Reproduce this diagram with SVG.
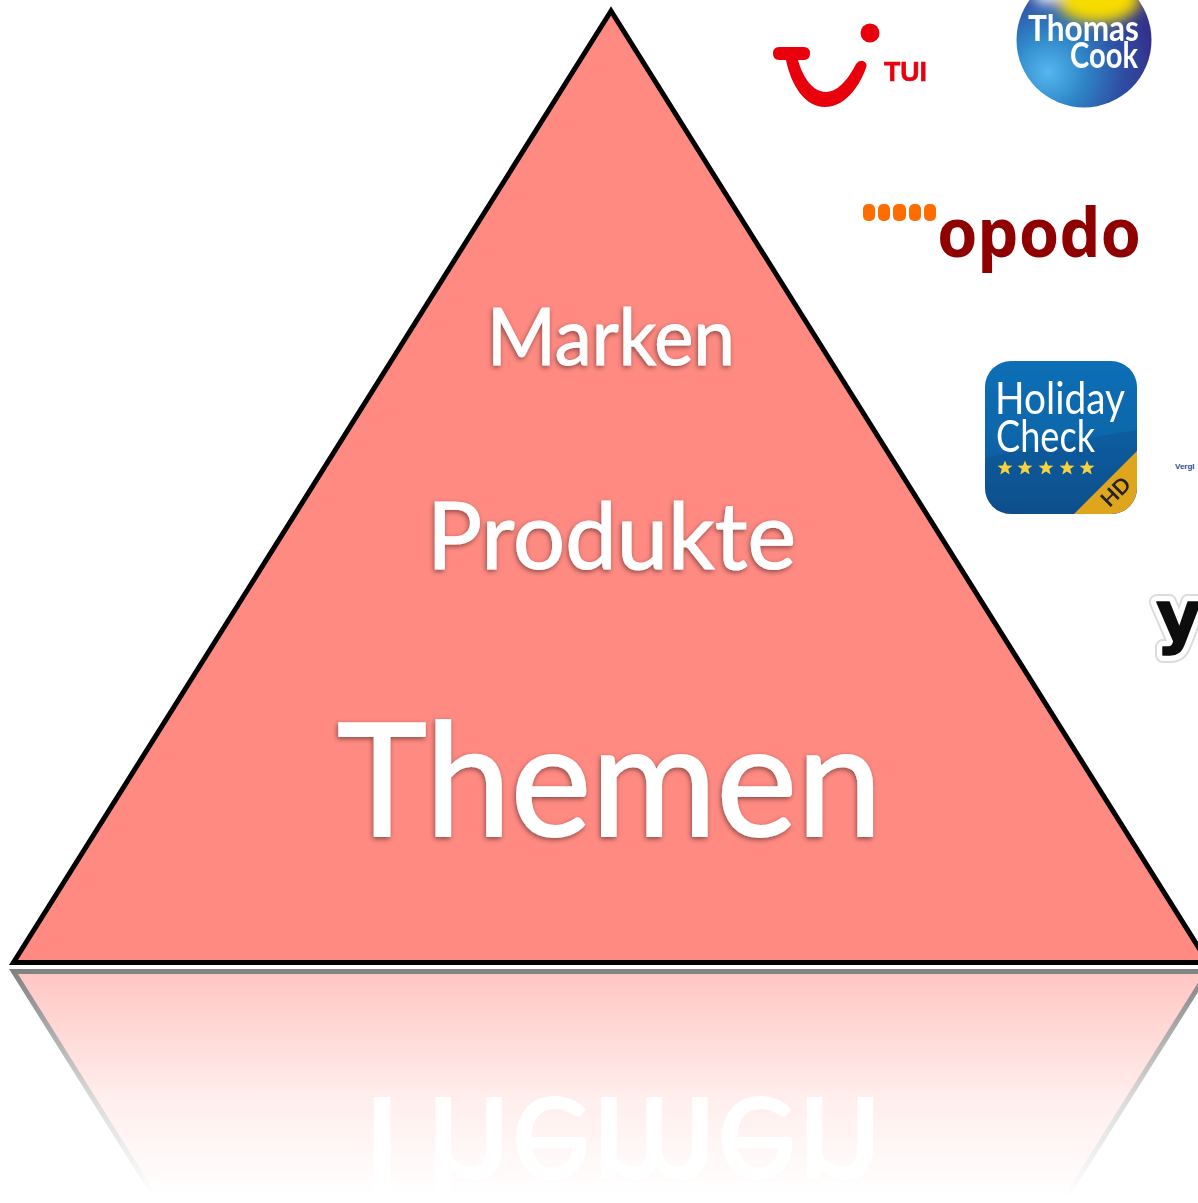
<svg xmlns="http://www.w3.org/2000/svg" xmlns:xlink="http://www.w3.org/1999/xlink" width="1198" height="1203" viewBox="0 0 1198 1203">
<style>
.label{font-family:"Lato","Liberation Sans",sans-serif;fill:#fff;stroke:#fff}
.tri{fill:#ff8a82;stroke:#000;stroke-width:5;stroke-linejoin:miter}
.logo{font-family:"Lato","Liberation Sans",sans-serif}
</style>
<defs>
<filter id="ts" filterUnits="userSpaceOnUse" x="300" y="280" width="620" height="590"><feDropShadow dx="-1" dy="2" stdDeviation="2.5" flood-color="#000" flood-opacity=".45"/></filter>
<filter id="soft" filterUnits="userSpaceOnUse" x="760" y="-40" width="438" height="720"><feGaussianBlur stdDeviation=".6"/></filter>
<filter id="glow" filterUnits="userSpaceOnUse" x="1000" y="-60" width="170" height="120"><feGaussianBlur stdDeviation="7"/></filter>
<linearGradient id="fade" gradientUnits="userSpaceOnUse" x1="0" y1="968" x2="0" y2="1197"><stop offset="0" stop-color="#fff" stop-opacity=".5"/><stop offset=".58" stop-color="#fff" stop-opacity=".14"/><stop offset="1" stop-color="#fff" stop-opacity="0"/></linearGradient>
<mask id="refl" maskUnits="userSpaceOnUse" x="0" y="960" width="1198" height="243"><rect x="0" y="960" width="1198" height="243" fill="url(#fade)"/></mask>
<radialGradient id="tc" gradientUnits="userSpaceOnUse" cx="1048" cy="72" r="105"><stop offset="0" stop-color="#55b8ee"/><stop offset=".35" stop-color="#2f86c8"/><stop offset=".7" stop-color="#2d50a4"/><stop offset="1" stop-color="#33338c"/></radialGradient>
<linearGradient id="hc" x1="0" y1="0" x2="0" y2="1"><stop offset="0" stop-color="#0a6fb6"/><stop offset=".5" stop-color="#0a66aa"/><stop offset="1" stop-color="#0a4f8c"/></linearGradient>
<clipPath id="tcc"><circle cx="1084" cy="40" r="67.5"/></clipPath>
<clipPath id="hcc"><rect x="985" y="361" width="152" height="153" rx="26"/></clipPath>
<polygon id="star" points="0,-7.5 2,-2.4 7.5,-2.3 3.2,1.1 4.7,6.5 0,3.4 -4.7,6.5 -3.2,1.1 -7.5,-2.3 -2,-2.4" fill="#f8d23c"/>
</defs>
<rect width="1198" height="1203" fill="#fff"/>

<g id="reflection" mask="url(#refl)">
<g transform="translate(0 1934) scale(1 -1)">
<polygon class="tri" points="611,11 13.5,962.5 1208,962.5"/>
<text class="label" x="337" y="836" font-size="157" stroke-width="2" textLength="545" lengthAdjust="spacingAndGlyphs">Themen</text>
</g>
</g>

<g id="pyramid">
<polygon class="tri" points="611,11 13.5,962.5 1208,962.5"/>
</g>
<g id="label-marken"><text class="label" filter="url(#ts)" x="487" y="364.5" font-size="79" stroke-width="1" textLength="248" lengthAdjust="spacingAndGlyphs">Marken</text></g>
<g id="label-produkte"><text class="label" filter="url(#ts)" x="427" y="569" font-size="94" stroke-width="1.2" textLength="369" lengthAdjust="spacingAndGlyphs">Produkte</text></g>
<g id="label-themen"><text class="label" filter="url(#ts)" x="337" y="836" font-size="157" stroke-width="2" textLength="545" lengthAdjust="spacingAndGlyphs">Themen</text></g>

<g id="logo-tui" filter="url(#soft)">
<path d="M779 47H804Q810 47 810 53.5Q810 60 804 60H798C803 78 813 92 826 92C839 92 850 76 856 64Q859 60 863 61Q868 63 866 68C858 90 843 107 825 107C805 107 791 85 786 60H779Q773 60 773 53.5Q773 47 779 47Z" fill="#e8000b"/>
<circle cx="870" cy="33" r="9.5" fill="#e8000b"/>
<text x="884" y="81" font-family="Liberation Sans,sans-serif" font-size="27" font-weight="700" fill="#e8000b" stroke="#e8000b" stroke-width=".6" textLength="43" lengthAdjust="spacingAndGlyphs">TUI</text>
</g>

<g id="logo-thomas-cook" filter="url(#soft)">
<circle cx="1084" cy="40" r="67.5" fill="url(#tc)"/>
<g clip-path="url(#tcc)"><g filter="url(#glow)"><ellipse cx="1098" cy="-1" rx="42" ry="24" fill="#f7dc00"/><ellipse cx="1046" cy="-12" rx="14" ry="16" fill="#fff"/></g></g>
<text class="logo" x="1028" y="41" font-size="36" font-weight="700" fill="#fff" textLength="111" lengthAdjust="spacingAndGlyphs">Thomas</text>
<text class="logo" x="1070" y="68" font-size="36" font-weight="700" fill="#fff" textLength="68" lengthAdjust="spacingAndGlyphs">Cook</text>
</g>

<g id="logo-opodo" filter="url(#soft)">
<g fill="#ff6c00"><rect x="863" y="204" width="12" height="17" rx="5"/><rect x="878" y="204" width="12" height="17" rx="5"/><rect x="893" y="204" width="13" height="17" rx="5"/><rect x="909" y="204" width="12" height="17" rx="5"/><rect x="924" y="204" width="12" height="17" rx="5"/></g>
<text x="937" y="257" font-family="Noto Sans,sans-serif" font-weight="700" font-size="68" fill="#8f0000" textLength="204" lengthAdjust="spacingAndGlyphs">opodo</text>
</g>

<g id="logo-holidaycheck" filter="url(#soft)">
<rect x="985" y="361" width="152" height="153" rx="26" fill="url(#hc)"/>
<path d="M985 458C1030 448 1090 438 1137 430V514H985Z" fill="#0a4f8e" opacity=".45" clip-path="url(#hcc)"/>
<polygon points="1137,451 1137,514 1074,514" fill="#dfa51e" clip-path="url(#hcc)"/>
<text class="logo" x="995" y="414" font-size="44" fill="#fff" textLength="130" lengthAdjust="spacingAndGlyphs">Holiday</text>
<text class="logo" x="996" y="452" font-size="44" fill="#fff" textLength="99" lengthAdjust="spacingAndGlyphs">Check</text>
<use xlink:href="#star" href="#star" x="1005" y="468"/><use xlink:href="#star" href="#star" x="1025" y="468"/><use xlink:href="#star" href="#star" x="1046" y="468"/><use xlink:href="#star" href="#star" x="1067" y="468"/><use xlink:href="#star" href="#star" x="1087" y="468"/>
<text class="logo" x="1116" y="499" font-size="21" font-weight="700" fill="#222" text-anchor="middle" transform="rotate(-45 1116 492)">HD</text>
</g>

<g id="logo-vergl"><text x="1175" y="469" font-family="Liberation Sans,sans-serif" font-size="8" font-weight="700" fill="#2a4a90">Vergl</text></g>

<g id="logo-y" filter="url(#soft)">
<g font-family="DejaVu Sans,sans-serif" font-weight="700" font-size="70">
<text x="1156" y="640" fill="#ddd" stroke="#dcdcdc" stroke-width="16" stroke-linejoin="round">y</text>
<text x="1156" y="640" fill="#fff" stroke="#fff" stroke-width="12" stroke-linejoin="round">y</text>
<text x="1156" y="640" fill="#0a0a0a" stroke="#0a0a0a" stroke-width="1.5" stroke-linejoin="round">y</text>
</g>
</g>
</svg>
